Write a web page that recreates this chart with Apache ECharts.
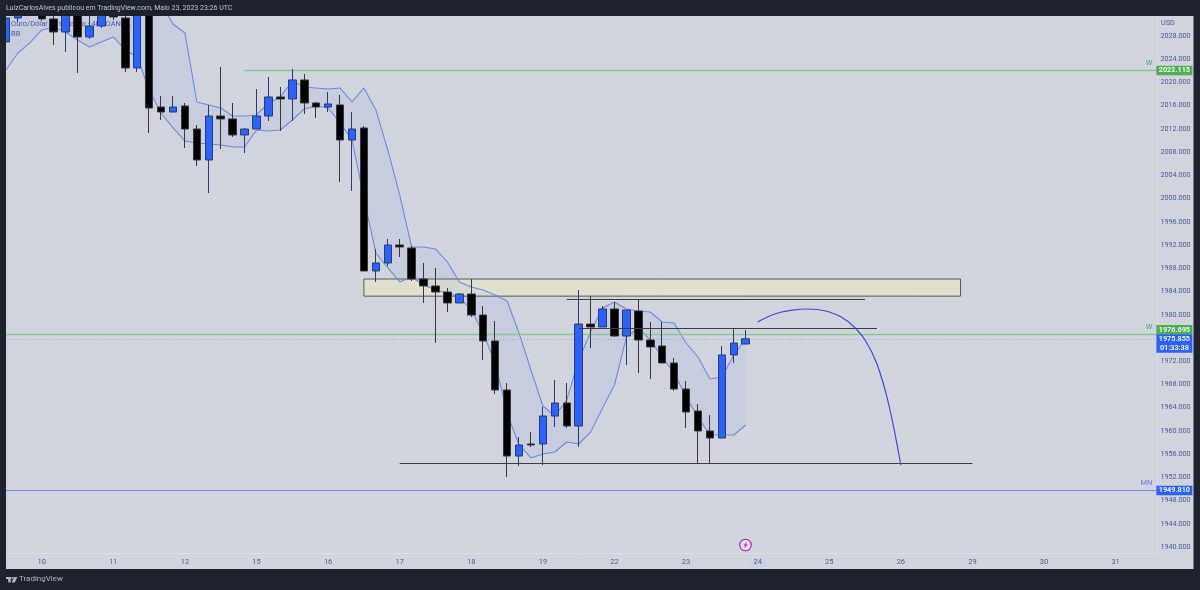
<!DOCTYPE html>
<html>
<head>
<meta charset="utf-8">
<title>Ouro/Dólar Americano</title>
<script src="https://cdn.jsdelivr.net/npm/echarts@6/dist/echarts.min.js"></script>
<style>html,body{margin:0;padding:0;background:#1e222d}#chart{width:1200px;height:590px}</style>
</head>
<body>
<div id="chart"></div>
<script>
// Gold / USD, 4h candles
const opens = [2026.97,2031.10,2035.23,2033.51,2030.93,2028.69,2032.13,2027.83,2029.72,2033.34,2031.10,2022.49,2037.64,2015.77,2014.91,2015.95,2011.98,2006.65,2014.22,2013.71,2010.95,2011.98,2014.22,2017.50,2017.15,2020.42,2016.46,2015.77,2016.12,2010.09,2012.16,1987.53,1988.91,1992.01,1991.49,1986.15,1984.95,1983.91,1982.02,1983.57,1979.95,1975.48,1967.04,1955.67,1957.74,1957.74,1962.56,1964.80,1960.84,1978.40,1977.89,1980.99,1976.34,1980.64,1975.65,1974.62,1971.69,1967.21,1963.42,1959.98,1958.77,1973.07,1974.96];
const closes = [2031.10,2032.82,2032.82,2030.93,2028.69,2032.48,2027.83,2029.72,2034.72,2031.27,2022.49,2035.58,2015.60,2014.91,2015.77,2011.98,2006.65,2014.22,2013.71,2010.95,2011.98,2014.22,2017.50,2017.15,2020.42,2016.46,2015.77,2016.29,2010.09,2011.98,1987.53,1988.91,1992.01,1991.66,1986.15,1984.95,1983.91,1982.02,1983.57,1979.95,1975.48,1967.04,1955.67,1957.57,1957.57,1962.56,1964.80,1960.84,1978.40,1977.89,1980.99,1976.34,1980.81,1975.65,1974.44,1971.69,1967.21,1963.25,1959.98,1958.77,1973.07,1975.13,1975.855];
const lows = [2026.45,2030.41,2032.13,2030.58,2026.45,2025.25,2021.63,2027.48,2029.38,2030.76,2021.80,2021.80,2011.30,2013.53,2014.91,2008.71,2005.61,2000.96,2008.54,2010.61,2007.85,2011.98,2013.36,2011.64,2013.36,2014.57,2013.88,2014.91,2002.86,2001.31,1987.53,1985.64,1988.39,1989.94,1985.81,1982.02,1975.13,1980.47,1982.02,1979.61,1972.20,1966.35,1952.06,1953.95,1957.22,1954.12,1960.67,1960.49,1957.22,1974.27,1977.89,1976.17,1971.34,1969.97,1968.93,1971.69,1966.87,1960.49,1954.47,1954.47,1958.77,1971.69,1974.96];
const highs = [2032.48,2033.86,2036.27,2034.89,2032.48,2033.51,2033.86,2031.62,2035.92,2034.54,2032.48,2036.61,2038.68,2017.67,2017.67,2016.46,2012.67,2016.12,2022.66,2016.46,2012.16,2018.87,2020.94,2019.22,2022.32,2021.46,2016.63,2018.36,2017.84,2014.91,2012.50,1991.32,1993.04,1993.04,1991.84,1988.91,1988.05,1984.60,1983.74,1986.15,1981.50,1978.92,1968.24,1958.94,1959.80,1964.11,1968.76,1968.24,1984.26,1983.23,1981.50,1982.19,1980.81,1982.54,1978.75,1978.75,1972.55,1968.59,1964.63,1962.73,1974.61,1977.72,1977.37];

// Bollinger band edges
const bandUpper = [2041,2041,2041,2041,2041,2041,2041,2041,2041,2041,2041,2041,2039.37,2033.68,2030.07,2028.52,2016.63,2016.12,2015.60,2014.22,2014.22,2014.40,2016.46,2017.50,2020.25,2019.22,2019.05,2018.87,2019.05,2016.63,2019.05,2015.26,2008.37,2000.62,1991.66,1991.66,1991.32,1989.08,1985.64,1984.78,1984.26,1983.40,1982.37,1976.85,1970.48,1964.28,1962.56,1965.32,1972.20,1977.03,1981.16,1982.19,1980.99,1980.64,1980.47,1978.75,1978.58,1975.13,1972.72,1968.93,1969.28,1973.07,1975.82];
const bandLower = [2022.15,2025.07,2026.80,2029.03,2029.55,2028.69,2027.31,2026.11,2026.97,2027.83,2025.59,2024.38,2018.70,2014.74,2012.16,2009.92,2009.57,2009.40,2009.23,2008.88,2008.88,2011.81,2011.64,2011.81,2013.53,2015.43,2015.95,2015.60,2013.02,2010.09,2000.10,1990.63,1988.05,1985.64,1986.50,1985.12,1984.26,1983.74,1983.05,1980.81,1976.85,1971.69,1963.08,1957.57,1955.33,1956.02,1956.36,1958.08,1957.74,1959.80,1963.94,1967.90,1976.17,1977.72,1975.65,1972.72,1969.97,1965.83,1962.39,1959.29,1959.29,1959.29,1961.01];

// Time scale: one label every six bars, plus the empty future bars
const barCount = 97;
const dayLabels = ['10','11','12','15','16','17','18','19','22','23','24','25','26','29','30','31'];
const activeDay = '24';
const categories = new Array(barCount).fill('');
dayLabels.forEach((d, k) => { categories[3 + k * 6] = d; });

const priceTicks = [2028,2024,2020,2016,2012,2008,2004,2000,1996,1992,1988,1984,1980,1972,1968,1964,1960,1956,1952,1948,1944,1940];

// Price levels with their scale tags
const levelPrices = [2022.115, 1976.695, 1975.855, 1949.81];
const levelStarts = [20, 0, 0, 0];
const levelTags = ['W', 'W', '', 'MN'];
const countdown = '01:33:38';

// Hand-drawn annotations: [from bar, to bar, price]
const segments = [[33, 81, 1954.47], [47, 72, 1982.65], [48, 73, 1977.8]];
const zoneBars = [30, 80];
const zonePrices = [1986.15, 1983.2];
const projectionBars = [63,64,65,66,67,68,69,70,71,72,73,74,75];
const projectionPrices = [1978.75,1979.78,1980.47,1980.81,1980.99,1980.90,1980.47,1979.61,1978.06,1975.65,1971.52,1964.45,1954.12];

const BG = '#d1d4dc', FRAME = '#1e222d', SCALE_TEXT = '#4b5a96', FONT = 'Roboto, sans-serif';
const levelStyles = [
  { line: '#8cc596', box: '#4caf50', w: 1.3, dash: null, cy: 0, h: 9.5 },
  { line: '#8cc596', box: '#4caf50', w: 1.3, dash: null, cy: -4.8, h: 9.5 },
  { line: '#9aa8e0', box: '#2962ff', w: 1, dash: [1, 2], cy: 4, h: 18.5 },
  { line: '#6d8ce6', box: '#2962ff', w: 1.2, dash: null, cy: 0, h: 9.5 }
];

const chart = echarts.init(document.getElementById('chart'), null, { renderer: 'canvas' });

chart.setOption({
  animation: false,
  backgroundColor: BG,
  grid: { left: -1.775, top: 16, width: 1159.15, height: 537, containLabel: false },
  xAxis: {
    type: 'category',
    data: categories,
    boundaryGap: true,
    axisLine: { show: true, lineStyle: { color: '#dcdee6', width: 1 } },
    axisTick: { show: false },
    splitLine: { show: false },
    axisLabel: {
      interval: 0, color: SCALE_TEXT, fontSize: 7.5, fontFamily: FONT, margin: 5,
      formatter: v => (v === activeDay ? '{active|' + v + '}' : v),
      rich: { active: { color: SCALE_TEXT, fontSize: 7.5, fontFamily: FONT, backgroundColor: '#c9d0e2', padding: [0, 4, 1, 4] } }
    }
  },
  yAxis: {
    type: 'value',
    position: 'right',
    min: 1938.97,
    max: 2031.44,
    scale: true,
    axisLine: { show: true, lineStyle: { color: '#d9dbe3', width: 1 } },
    axisTick: { show: false, customValues: priceTicks },
    splitLine: { show: false },
    axisLabel: {
      customValues: priceTicks,
      color: SCALE_TEXT, fontSize: 7.2, fontFamily: FONT, margin: 3,
      formatter: v => v.toFixed(3)
    }
  },
  series: [
    {
      // supply/demand zone
      type: 'custom', z: 1, clip: true, silent: true,
      data: [[zoneBars[0], zonePrices[0]]],
      renderItem: (params, api) => {
        const a = api.coord([zoneBars[0], zonePrices[0]]);
        const b = api.coord([zoneBars[1], zonePrices[1]]);
        return {
          type: 'rect',
          shape: { x: a[0], y: a[1], width: b[0] - a[0], height: b[1] - a[1] },
          style: { fill: '#e0e0d0', stroke: '#585858', lineWidth: 1 }
        };
      }
    },
    {
      // band fill
      type: 'custom', z: 2, clip: true, silent: true,
      data: [[0, bandUpper[0]]],
      renderItem: (params, api) => {
        const pts = [];
        bandUpper.forEach((v, i) => pts.push(api.coord([i, v])));
        for (let i = bandLower.length - 1; i >= 0; i--) pts.push(api.coord([i, bandLower[i]]));
        return { type: 'polygon', shape: { points: pts }, style: { fill: 'rgba(72,116,224,0.07)' } };
      }
    },
    { type: 'line', z: 3, data: bandUpper, symbol: 'none', silent: true, lineStyle: { color: '#6f8adf', width: 1.1 } },
    { type: 'line', z: 3, data: bandLower, symbol: 'none', silent: true, lineStyle: { color: '#6f8adf', width: 1.1 } },
    {
      type: 'candlestick', z: 5, silent: true, barWidth: 8,
      data: opens.map((o, k) => [o, closes[k], lows[k], highs[k]]),
      itemStyle: { color: '#2962ff', color0: '#000000', borderColor: '#2a3c70', borderColor0: '#383838', borderWidth: 1 }
    },
    {
      // price levels with boxes on the scale
      type: 'custom', z: 4, clip: false, silent: true,
      data: levelPrices.map((p, k) => [levelStarts[k], p]),
      renderItem: (params, api) => {
        const k = params.dataIndex;
        const st = levelStyles[k];
        const pos = api.coord([levelStarts[k], levelPrices[k]]);
        const right = params.coordSys.x + params.coordSys.width;
        const y = Math.round(pos[1]) + 0.5;
        const x0 = levelStarts[k] === 0 ? 5 : pos[0];
        const boxY = y + st.cy - st.h / 2;
        const children = [
          { type: 'line', shape: { x1: x0, y1: y, x2: right, y2: y }, style: { stroke: st.line, lineWidth: st.w, lineDash: st.dash } },
          { type: 'rect', shape: { x: right - 1, y: boxY, width: 36, height: st.h }, style: { fill: st.box } }
        ];
        const label = levelPrices[k].toFixed(3);
        children.push({
          type: 'text',
          style: {
            x: right + 17, y: k === 2 ? boxY + 1 : boxY + st.h / 2, text: k === 2 ? label + '\n' + countdown : label,
            fill: '#ffffff', font: '600 7.3px ' + FONT, align: 'center', verticalAlign: k === 2 ? 'top' : 'middle', lineHeight: 8.6
          }
        });
        if (levelTags[k]) {
          children.push({
            type: 'text',
            style: { x: right - 5, y: y - 7, text: levelTags[k], fill: st.box === '#4caf50' ? '#5c9f6a' : '#5f7fe0', font: '7.5px ' + FONT, align: 'right', verticalAlign: 'middle' }
          });
        }
        return { type: 'group', children };
      }
    },
    {
      // horizontal trend lines
      type: 'custom', z: 6, clip: true, silent: true,
      data: segments.map(s => [s[0], s[2]]),
      renderItem: (params, api) => {
        const s = segments[params.dataIndex];
        const a = api.coord([s[0], s[2]]);
        const b = api.coord([s[1], s[2]]);
        const y = Math.round(a[1]) + 0.5;
        return { type: 'line', shape: { x1: a[0], y1: y, x2: b[0], y2: y }, style: { stroke: '#3c3c3c', lineWidth: 1 } };
      }
    },
    {
      // projected path
      type: 'line', z: 6, symbol: 'none', silent: true, smooth: 0.35,
      data: projectionBars.map((b, k) => [b, projectionPrices[k]]),
      lineStyle: { color: '#3d50c8', width: 1.2 }
    }
  ],
  graphic: [
    // legend under the candles
    { type: 'text', z: 1, x: 11, y: 20, style: { text: 'Ouro/Dólar Americano · 4h · OANDA', fill: '#4a5ba8', font: '7.5px ' + FONT } },
    { type: 'text', z: 1, x: 11, y: 30, style: { text: 'BB', fill: '#4a5ba8', font: '7.5px ' + FONT } },
    // currency caption
    { type: 'text', z: 20, x: 1161, y: 20, style: { text: 'USD', fill: SCALE_TEXT, font: '7.2px ' + FONT } },
    // event marker
    { type: 'circle', z: 20, shape: { cx: 745.5, cy: 545, r: 5.8 }, style: { fill: '#e4dced', stroke: '#9c27b0', lineWidth: 1.1 } },
    { type: 'polygon', z: 21, shape: { points: [[747,541.5],[743.5,545.6],[745.4,545.6],[744.2,548.6],[747.6,544.4],[745.7,544.4]] }, style: { fill: '#9c27b0' } },
    // window frame
    { type: 'rect', z: 100, shape: { x: 0, y: 0, width: 1200, height: 16 }, style: { fill: FRAME } },
    { type: 'rect', z: 100, shape: { x: 0, y: 569, width: 1200, height: 21 }, style: { fill: FRAME } },
    { type: 'rect', z: 100, shape: { x: 0, y: 0, width: 6, height: 590 }, style: { fill: FRAME } },
    { type: 'rect', z: 100, shape: { x: 1193.5, y: 0, width: 6.5, height: 590 }, style: { fill: FRAME } },
    { type: 'text', z: 101, x: 6, y: 5, style: { text: 'LuizCarlosAlves publicou em TradingView.com, Maio 23, 2023 23:26 UTC', fill: '#c3c5cc', font: '7px ' + FONT } },
    // brand mark
    { type: 'rect', z: 101, shape: { x: 6, y: 577, width: 5, height: 2 }, style: { fill: '#b2b5be' } },
    { type: 'rect', z: 101, shape: { x: 8.2, y: 577, width: 2.6, height: 5.4 }, style: { fill: '#b2b5be' } },
    { type: 'circle', z: 101, shape: { cx: 12.3, cy: 578, r: 1 }, style: { fill: '#b2b5be' } },
    { type: 'polygon', z: 101, shape: { points: [[14,577],[17.4,577],[14.8,582.4],[11.6,582.4]] }, style: { fill: '#b2b5be' } },
    { type: 'text', z: 101, x: 19, y: 575, style: { text: 'TradingView', fill: '#b2b5be', font: '8px ' + FONT } }
  ]
});
</script>
</body>
</html>
